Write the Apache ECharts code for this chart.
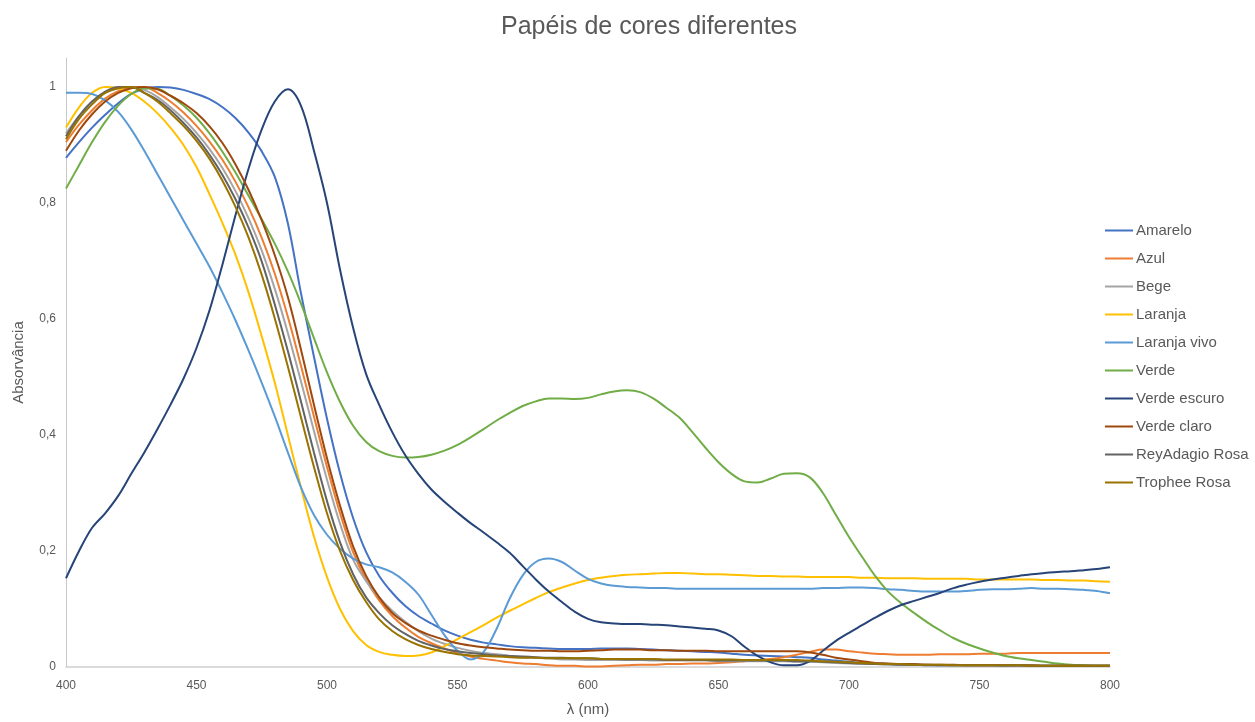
<!DOCTYPE html>
<html>
<head>
<meta charset="utf-8">
<script src="https://cdn.jsdelivr.net/npm/echarts@6/dist/echarts.min.js"></script>
<style>
html,body{margin:0;padding:0;background:#fff;}
#chart{width:1255px;height:722px;}
</style>
</head>
<body>
<div id="chart"></div>
<script>
// Wavelength grid (nm)
const wavelengths = [
  400,405,410,415,420,425,430,435,440,445,
  450,455,460,465,470,475,480,485,490,495,
  500,505,510,515,520,525,530,535,540,545,
  550,555,560,565,570,575,580,585,590,595,
  600,605,610,615,620,625,630,635,640,645,
  650,655,660,665,670,675,680,685,690,695,
  700,705,710,715,720,725,730,735,740,745,
  750,755,760,765,770,775,780,785,790,795,
  800
];

const seriesNames = ["Amarelo","Azul","Bege","Laranja","Laranja vivo","Verde","Verde escuro","Verde claro","ReyAdagio Rosa","Trophee Rosa"];

const amarelo = [
  0.878,0.905,0.93,0.952,0.972,0.988,0.997,1.0,0.999,0.995,
  0.988,0.979,0.965,0.946,0.921,0.889,0.845,0.765,0.645,0.535,
  0.428,0.334,0.257,0.198,0.157,0.128,0.105,0.088,0.075,0.063,
  0.054,0.047,0.042,0.039,0.036,0.034,0.033,0.032,0.031,0.031,
  0.031,0.032,0.032,0.032,0.031,0.030,0.029,0.028,0.027,0.026,
  0.025,0.023,0.021,0.020,0.019,0.018,0.017,0.016,0.013,0.011,
  0.009,0.007,0.006,0.005,0.004,0.004,0.003,0.003,0.003,0.003,
  0.003,0.003,0.002,0.002,0.002,0.002,0.002,0.002,0.002,0.002,
  0.002
];
const azul = [
  0.905,0.935,0.96,0.98,0.993,0.999,1.0,0.99,0.975,0.956,
  0.933,0.906,0.874,0.836,0.792,0.74,0.678,0.604,0.52,0.432,
  0.345,0.265,0.198,0.15,0.115,0.088,0.068,0.052,0.041,0.032,
  0.024,0.018,0.014,0.011,0.008,0.006,0.005,0.003,0.002,0.002,
  0.001,0.001,0.002,0.003,0.004,0.004,0.005,0.005,0.006,0.006,
  0.007,0.008,0.010,0.012,0.014,0.017,0.021,0.026,0.030,0.030,
  0.027,0.025,0.023,0.022,0.021,0.021,0.021,0.022,0.022,0.022,
  0.023,0.023,0.023,0.024,0.024,0.024,0.024,0.024,0.024,0.024,
  0.024
];
const bege = [
  0.92,0.95,0.975,0.99,0.998,1.0,0.995,0.983,0.965,0.945,
  0.921,0.893,0.86,0.82,0.773,0.718,0.652,0.576,0.493,0.407,
  0.323,0.247,0.185,0.148,0.12,0.097,0.078,0.062,0.049,0.04,
  0.033,0.028,0.024,0.022,0.019,0.017,0.016,0.015,0.013,0.013,
  0.012,0.012,0.012,0.012,0.012,0.011,0.011,0.011,0.011,0.011,
  0.010,0.010,0.010,0.010,0.010,0.010,0.009,0.009,0.008,0.007,
  0.006,0.005,0.005,0.004,0.004,0.004,0.003,0.003,0.003,0.003,
  0.003,0.003,0.003,0.002,0.002,0.002,0.002,0.002,0.002,0.002,
  0.002
];
const laranja = [
  0.93,0.965,0.99,1.0,0.998,0.99,0.975,0.955,0.93,0.9,
  0.862,0.815,0.765,0.71,0.645,0.57,0.49,0.4,0.31,0.225,
  0.155,0.1,0.062,0.038,0.026,0.021,0.019,0.02,0.025,0.036,
  0.048,0.06,0.072,0.085,0.097,0.108,0.119,0.129,0.137,0.144,
  0.15,0.154,0.157,0.159,0.16,0.161,0.162,0.162,0.161,0.16,
  0.16,0.159,0.158,0.157,0.157,0.156,0.156,0.155,0.155,0.155,
  0.155,0.154,0.154,0.153,0.153,0.153,0.152,0.152,0.152,0.152,
  0.151,0.151,0.151,0.151,0.151,0.15,0.15,0.149,0.149,0.148,
  0.147
];
const laranjaVivo = [
  0.99,0.99,0.988,0.977,0.957,0.927,0.89,0.85,0.81,0.77,
  0.73,0.69,0.645,0.597,0.545,0.49,0.432,0.37,0.31,0.262,
  0.228,0.204,0.187,0.177,0.172,0.163,0.147,0.125,0.09,0.055,
  0.028,0.013,0.026,0.066,0.118,0.158,0.181,0.187,0.181,0.166,
  0.152,0.144,0.14,0.138,0.137,0.136,0.136,0.135,0.135,0.135,
  0.135,0.135,0.135,0.135,0.135,0.135,0.135,0.135,0.136,0.136,
  0.137,0.137,0.136,0.134,0.133,0.131,0.13,0.13,0.13,0.131,
  0.133,0.134,0.134,0.135,0.136,0.135,0.135,0.134,0.133,0.131,
  0.127
];
const verde = [
  0.825,0.865,0.905,0.94,0.968,0.988,0.998,0.997,0.985,0.968,
  0.947,0.92,0.888,0.852,0.812,0.772,0.73,0.682,0.627,0.567,
  0.508,0.457,0.416,0.388,0.372,0.364,0.361,0.362,0.366,0.373,
  0.383,0.396,0.41,0.425,0.438,0.45,0.458,0.463,0.463,0.462,
  0.464,0.47,0.475,0.477,0.474,0.463,0.447,0.43,0.405,0.378,
  0.353,0.333,0.32,0.318,0.325,0.333,0.334,0.327,0.30,0.262,
  0.224,0.19,0.157,0.13,0.11,0.093,0.077,0.063,0.05,0.04,
  0.032,0.025,0.019,0.015,0.012,0.009,0.006,0.004,0.003,0.002,
  0.002
];
const verdeEscuro = [
  0.153,0.2,0.24,0.265,0.295,0.333,0.37,0.41,0.452,0.497,
  0.55,0.615,0.695,0.78,0.86,0.927,0.975,0.996,0.968,0.89,
  0.80,0.685,0.585,0.505,0.452,0.405,0.365,0.333,0.306,0.285,
  0.266,0.248,0.232,0.215,0.197,0.174,0.151,0.13,0.112,0.095,
  0.083,0.077,0.075,0.074,0.074,0.073,0.072,0.07,0.068,0.066,
  0.063,0.053,0.035,0.019,0.008,0.003,0.003,0.01,0.028,0.045,
  0.059,0.072,0.085,0.097,0.107,0.114,0.121,0.128,0.136,0.142,
  0.147,0.151,0.154,0.157,0.16,0.162,0.164,0.165,0.167,0.169,
  0.172
];
const verdeClaro = [
  0.89,0.925,0.953,0.975,0.99,0.998,1.0,0.996,0.985,0.972,
  0.955,0.932,0.903,0.866,0.822,0.77,0.71,0.638,0.548,0.452,
  0.36,0.278,0.208,0.157,0.12,0.093,0.076,0.063,0.054,0.047,
  0.041,0.037,0.034,0.032,0.030,0.029,0.028,0.028,0.027,0.027,
  0.028,0.029,0.030,0.030,0.030,0.029,0.029,0.028,0.028,0.028,
  0.027,0.027,0.027,0.027,0.027,0.027,0.027,0.025,0.021,0.016,
  0.013,0.01,0.007,0.006,0.005,0.005,0.004,0.004,0.004,0.003,
  0.003,0.003,0.003,0.003,0.003,0.002,0.002,0.002,0.002,0.002,
  0.002
];
const reyAdagio = [
  0.915,0.95,0.975,0.992,1.0,1.0,0.99,0.978,0.96,0.938,
  0.913,0.883,0.848,0.806,0.757,0.699,0.625,0.545,0.458,0.37,
  0.286,0.215,0.16,0.12,0.093,0.072,0.057,0.045,0.037,0.031,
  0.027,0.024,0.022,0.02,0.019,0.018,0.017,0.016,0.016,0.015,
  0.015,0.014,0.014,0.013,0.013,0.013,0.012,0.012,0.012,0.012,
  0.011,0.011,0.011,0.011,0.011,0.011,0.010,0.010,0.009,0.008,
  0.007,0.006,0.005,0.005,0.004,0.004,0.004,0.003,0.003,0.003,
  0.003,0.003,0.003,0.003,0.002,0.002,0.002,0.002,0.002,0.002,
  0.002
];
const trophee = [
  0.91,0.945,0.97,0.99,0.998,1.0,0.99,0.975,0.955,0.933,
  0.907,0.876,0.838,0.793,0.74,0.676,0.601,0.518,0.431,0.345,
  0.265,0.2,0.15,0.112,0.082,0.062,0.048,0.038,0.031,0.026,
  0.022,0.02,0.019,0.018,0.017,0.016,0.016,0.015,0.015,0.015,
  0.015,0.014,0.014,0.014,0.014,0.014,0.013,0.013,0.013,0.013,
  0.013,0.013,0.012,0.012,0.012,0.012,0.012,0.011,0.010,0.009,
  0.008,0.007,0.006,0.005,0.005,0.004,0.004,0.004,0.003,0.003,
  0.003,0.003,0.003,0.003,0.002,0.002,0.002,0.002,0.002,0.002,
  0.002
];

const seriesValues = [amarelo, azul, bege, laranja, laranjaVivo, verde, verdeEscuro, verdeClaro, reyAdagio, trophee];
const seriesColors = ["#4472C4","#ED7D31","#A5A5A5","#FFC000","#5B9BD5","#70AD47","#264478","#9E480E","#636363","#997300"];

const xTicks = [400,450,500,550,600,650,700,750,800];
const yTicks = [0,0.2,0.4,0.6,0.8,1];

const chart = echarts.init(document.getElementById('chart'), null, {renderer:'canvas'});
const textColor = '#595959';
const font = 'Liberation Sans, Arial, sans-serif';

chart.setOption({
  animation:false,
  backgroundColor:'#ffffff',
  title:{
    text:'Papéis de cores diferentes',
    left:496, top:10,
    textStyle:{color:textColor, fontSize:25, fontWeight:'normal', fontFamily:font}
  },
  legend:{
    orient:'vertical',
    left:1100, top:218,
    itemWidth:28, itemHeight:2, itemGap:13,
    icon:'rect',
    selectedMode:false,
    data:seriesNames,
    textStyle:{color:textColor, fontSize:15, fontFamily:font, padding:[0,0,0,-2]}
  },
  grid:{left:66, right:145, top:58, bottom:51, containLabel:false},
  xAxis:{
    type:'value', min:400, max:800, interval:50,
    name:'λ (nm)', nameLocation:'middle', nameGap:35,
    nameTextStyle:{color:textColor, fontSize:15, fontFamily:font},
    axisLine:{show:true, onZero:false, lineStyle:{color:'#D0D0D0', width:1.5}},
    axisTick:{show:false},
    splitLine:{show:false},
    axisLabel:{color:textColor, fontSize:12, fontFamily:font, margin:13,
      formatter:v => xTicks.includes(v) ? String(v) : ''}
  },
  yAxis:{
    type:'value', min:0, max:1.05, interval:0.2,
    name:'Absorvância', nameLocation:'middle', nameGap:40, nameRotate:90,
    nameTextStyle:{color:textColor, fontSize:15, fontFamily:font},
    axisLine:{show:true, lineStyle:{color:'#C8C8C8', width:1}},
    axisTick:{show:false},
    splitLine:{show:false},
    axisLabel:{color:textColor, fontSize:12, fontFamily:font, margin:10, showMaxLabel:false,
      formatter:v => {
        const t = yTicks.find(k => Math.abs(k - v) < 1e-6);
        return t === undefined ? '' : String(t).replace('.', ',');
      }}
  },
  series: seriesNames.map((name, i) => ({
    name, type:'line', showSymbol:false, symbol:'none',
    smooth:0.35,
    color:seriesColors[i],
    lineStyle:{width:2, color:seriesColors[i]},
    data: wavelengths.map((w, j) => [w, seriesValues[i][j]])
  }))
});
</script>
</body>
</html>
